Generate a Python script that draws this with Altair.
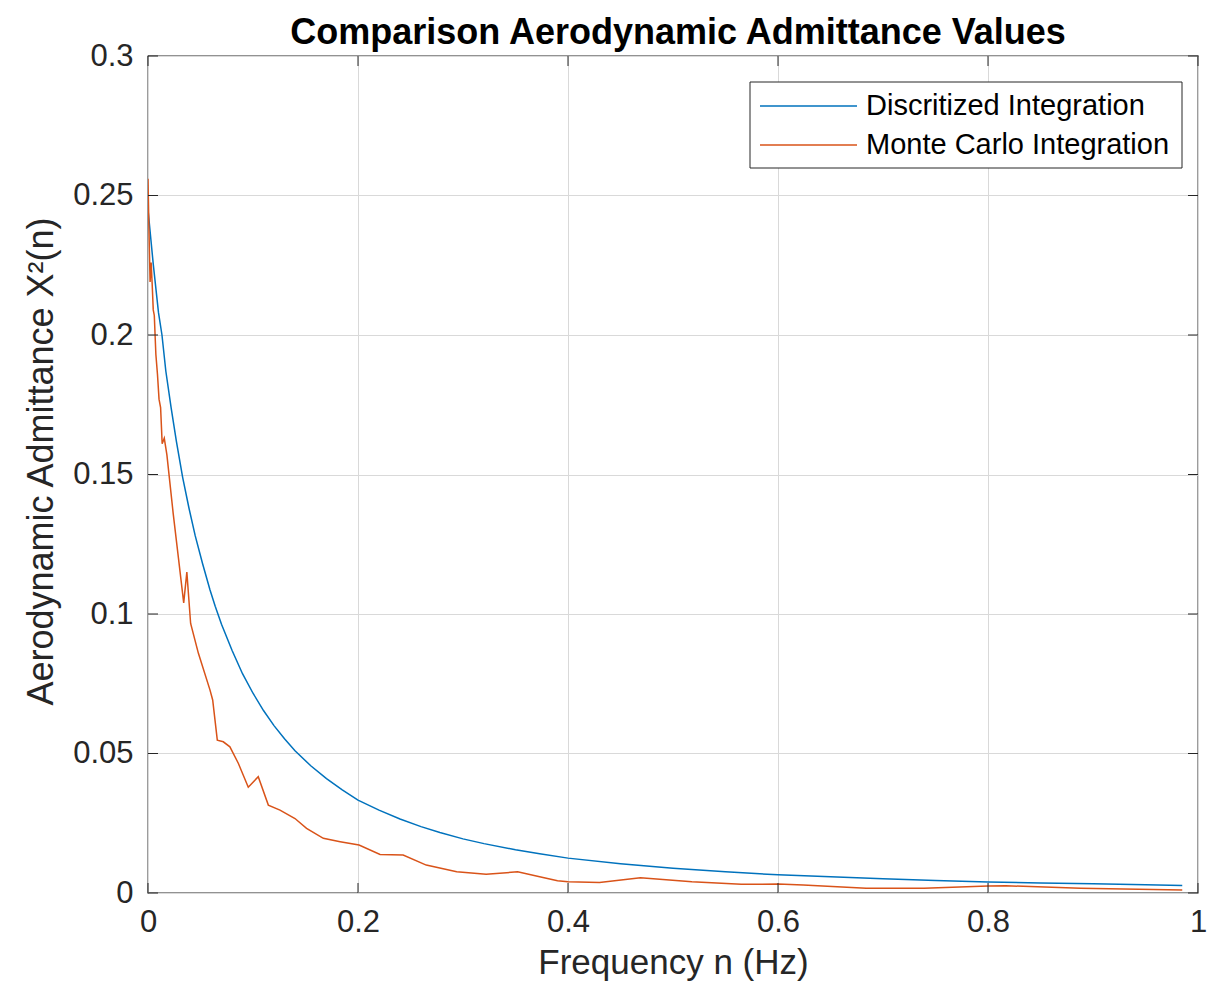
import altair as alt
import pandas as pd

# ---- data ----
disc_n = [0.0, 0.005, 0.01, 0.0133, 0.017, 0.022, 0.027, 0.033, 0.039, 0.045, 0.052, 0.059,
          0.064, 0.07, 0.08, 0.09, 0.1, 0.11, 0.12, 0.13, 0.14, 0.155, 0.17, 0.185, 0.2, 0.22,
          0.24, 0.26, 0.278, 0.3, 0.32, 0.35, 0.373, 0.4, 0.45, 0.5, 0.55, 0.6, 0.65, 0.7, 0.75,
          0.8, 0.85, 0.9, 0.95, 0.985]
disc_v = [0.245, 0.2254, 0.208, 0.200, 0.187, 0.174, 0.162, 0.149, 0.138, 0.128, 0.118, 0.1087,
          0.1028, 0.0963, 0.087, 0.0786, 0.0716, 0.0654, 0.060, 0.0553, 0.051, 0.0456, 0.041,
          0.0370, 0.0333, 0.0297, 0.0265, 0.0238, 0.0217, 0.0194, 0.0177, 0.0155, 0.0141, 0.0125,
          0.0105, 0.0089, 0.0076, 0.0065, 0.0058, 0.0051, 0.0045, 0.0039, 0.0036, 0.0033, 0.0030,
          0.0027]

mc_n = [0.0, 0.001, 0.002, 0.003, 0.004, 0.005, 0.006, 0.0075, 0.009, 0.0105, 0.012, 0.0135,
        0.0155, 0.018, 0.024, 0.029, 0.034, 0.037, 0.0406, 0.048, 0.059, 0.0616, 0.066, 0.0717,
        0.078, 0.086, 0.0955, 0.105, 0.1146, 0.1257, 0.14, 0.151, 0.167, 0.183, 0.201, 0.221,
        0.243, 0.265, 0.294, 0.322, 0.352, 0.373, 0.39, 0.4, 0.43, 0.469, 0.518, 0.565, 0.6,
        0.624, 0.684, 0.739, 0.8, 0.817, 0.888, 0.985]
mc_v = [0.256, 0.236, 0.219, 0.226, 0.218, 0.209, 0.207, 0.193, 0.186, 0.177, 0.174, 0.161,
        0.163, 0.157, 0.136, 0.120, 0.104, 0.115, 0.0966, 0.0859, 0.0728, 0.0692, 0.0548, 0.0542,
        0.0524, 0.0465, 0.0379, 0.0417, 0.0315, 0.0297, 0.0267, 0.0232, 0.0196, 0.0184, 0.0172,
        0.0138, 0.0136, 0.0100, 0.0076, 0.0067, 0.0076, 0.0058, 0.0044, 0.0040, 0.0038, 0.0055,
        0.0040, 0.0031, 0.0032, 0.0029, 0.0017, 0.0017, 0.0025, 0.0026, 0.0017, 0.0011]

series_names = ["Discritized Integration", "Monte Carlo Integration"]
series_colors = ["#0072BD", "#D95319"]
x_ticks = [0, 0.2, 0.4, 0.6, 0.8, 1]
y_ticks = [0, 0.05, 0.1, 0.15, 0.2, 0.25, 0.3]

df = pd.concat([
    pd.DataFrame({"n": disc_n, "v": disc_v, "series": series_names[0], "idx": range(len(disc_n))}),
    pd.DataFrame({"n": mc_n, "v": mc_v, "series": series_names[1], "idx": range(len(mc_n))}),
], ignore_index=True)
xt = pd.DataFrame({"t": x_ticks})
yt = pd.DataFrame({"t": y_ticks})

W, H = 1050, 837
FONT = "Liberation Sans"
AX = "#262626"
TICK = 10
xs = alt.Scale(domain=[0, 1], nice=False)
ys = alt.Scale(domain=[0, 0.3], nice=False)

x_axis = alt.Axis(
    values=x_ticks, format="~g", title="Frequency n (Hz)", grid=True, gridColor="#d9d9d9",
    gridWidth=1, tickSize=0, domain=False, labelFontSize=31, labelFont=FONT, labelColor=AX,
    labelPadding=14, labelFlush=False, titleFontSize=35, titleFont=FONT, titleColor=AX,
    titleFontWeight="normal", titlePadding=8)
y_axis = alt.Axis(
    values=y_ticks, format="~g", title="Aerodynamic Admittance X²(n)", grid=True,
    gridColor="#d9d9d9", gridWidth=1, tickSize=0, domain=False, labelFontSize=31,
    labelFont=FONT, labelColor=AX, labelPadding=15, labelFlush=False, titleFontSize=36,
    titleFont=FONT, titleColor=AX, titleFontWeight="normal", titlePadding=12, titleY=405)

lines = alt.Chart(df).mark_line(strokeWidth=1.5, clip=True).encode(
    x=alt.X("n:Q", scale=xs, axis=x_axis, title="Frequency n (Hz)"),
    y=alt.Y("v:Q", scale=ys, axis=y_axis, title="Aerodynamic Admittance X²(n)"),
    color=alt.Color("series:N", scale=alt.Scale(domain=series_names, range=series_colors),
                    legend=None),
    order="idx:Q",
)

# inward ticks on all four sides of the box
tick_mark = dict(color=AX, strokeWidth=1)
t_bottom = alt.Chart(xt).mark_rule(**tick_mark).encode(
    x=alt.X("t:Q", scale=xs, axis=x_axis, title="Frequency n (Hz)"),
    y=alt.value(H), y2=alt.value(H - TICK))
t_top = alt.Chart(xt).mark_rule(**tick_mark).encode(
    x=alt.X("t:Q", scale=xs, axis=x_axis, title="Frequency n (Hz)"),
    y=alt.value(0), y2=alt.value(TICK))
t_left = alt.Chart(yt).mark_rule(**tick_mark).encode(
    y=alt.Y("t:Q", scale=ys, axis=y_axis, title="Aerodynamic Admittance X²(n)"),
    x=alt.value(0), x2=alt.value(TICK))
t_right = alt.Chart(yt).mark_rule(**tick_mark).encode(
    y=alt.Y("t:Q", scale=ys, axis=y_axis, title="Aerodynamic Admittance X²(n)"),
    x=alt.value(W - TICK), x2=alt.value(W))

# legend box (MATLAB style, inside the upper right of the axes)
LX0, LX1, LY0, LY1 = 602, 1034, 26, 112
row_y = [50, 89]
one = pd.DataFrame({"a": [0]})
leg_box = alt.Chart(one).mark_rect(fill="white", stroke=AX, strokeWidth=1).encode(
    x=alt.value(LX0), x2=alt.value(LX1), y=alt.value(LY0), y2=alt.value(LY1))
leg_layers = [leg_box]
for i, name in enumerate(series_names):
    d = pd.DataFrame({"series": [name]})
    leg_layers.append(alt.Chart(d).mark_rule(color=series_colors[i], strokeWidth=1.5).encode(
        x=alt.value(LX0 + 10), x2=alt.value(LX0 + 107), y=alt.value(row_y[i])))
    leg_layers.append(alt.Chart(d).mark_text(align="left", baseline="middle", fontSize=29,
                                             font=FONT, color="black").encode(
        x=alt.value(LX0 + 116), y=alt.value(row_y[i]), text="series:N"))

chart = alt.layer(lines, t_bottom, t_top, t_left, t_right, *leg_layers).properties(
    width=W, height=H,
    autosize=alt.AutoSizeParams(type="none"),
    padding={"left": 140, "top": 48, "right": 11, "bottom": 97},
    title=alt.TitleParams("Comparison Aerodynamic Admittance Values", fontSize=36,
                          fontWeight="bold", font=FONT, color="black", anchor="middle",
                          frame="group", offset=-12, dx=5),
).configure(background="white").configure_view(stroke=AX, strokeWidth=1.3)

chart.save("out.html", embed_options={"renderer": "svg", "actions": False})
